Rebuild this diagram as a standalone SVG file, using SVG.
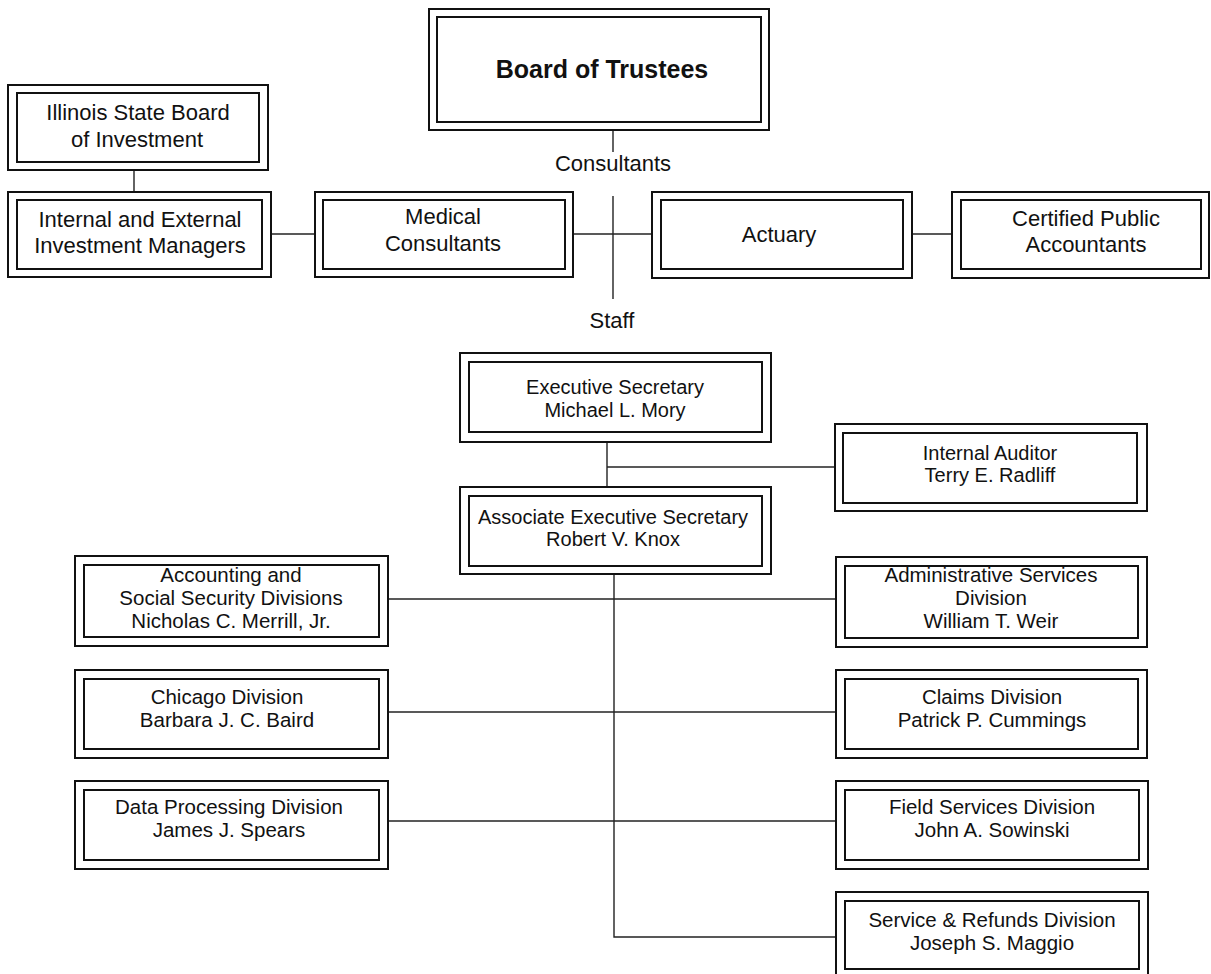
<svg xmlns="http://www.w3.org/2000/svg" width="1211" height="974" viewBox="0 0 1211 974">
<style>
.o{fill:none;stroke:#111;stroke-width:2}
.i{fill:none;stroke:#111;stroke-width:2}
.c{fill:none;stroke:#222;stroke-width:1.4}
text{font-family:"Liberation Sans",Arial,sans-serif;fill:#111;text-anchor:middle}
.t{font-size:22px}
.s{font-size:20px}
.d{font-size:20.5px}
.b{font-size:25px;font-weight:bold}
</style>
<rect width="1211" height="974" fill="#fff"/>
<g id="connectors">
<line class="c" x1="613" y1="130" x2="613" y2="152"/>
<line class="c" x1="613" y1="196" x2="613" y2="299"/>
<line class="c" x1="134" y1="170" x2="134" y2="192"/>
<line class="c" x1="271" y1="234" x2="315" y2="234"/>
<line class="c" x1="573" y1="234" x2="652" y2="234"/>
<line class="c" x1="912" y1="234" x2="952" y2="234"/>
<line class="c" x1="607" y1="442" x2="607" y2="487"/>
<line class="c" x1="607" y1="467" x2="835" y2="467"/>
<polyline class="c" points="614,574 614,937 836,937"/>
<line class="c" x1="388" y1="599" x2="836" y2="599"/>
<line class="c" x1="388" y1="712" x2="836" y2="712"/>
<line class="c" x1="388" y1="821" x2="836" y2="821"/>
</g>
<text class="t" x="613" y="171">Consultants</text>
<text class="t" x="612" y="328">Staff</text>
<g id="board">
<rect class="o" x="429" y="9" width="340" height="121"/>
<rect class="i" x="437" y="17" width="324" height="105"/>
<text class="b" x="602" y="78">Board of Trustees</text>
</g>
<g id="illinois">
<rect class="o" x="8" y="85" width="260" height="85"/>
<rect class="i" x="17" y="93" width="242" height="69"/>
<text class="t" y="120"><tspan x="138">Illinois State Board</tspan><tspan x="137" dy="27">of Investment</tspan></text>
</g>
<g id="investment-managers">
<rect class="o" x="8" y="192" width="263" height="85"/>
<rect class="i" x="17" y="200" width="245" height="69"/>
<text class="t" y="227"><tspan x="140">Internal and External</tspan><tspan x="140" dy="26">Investment Managers</tspan></text>
</g>
<g id="medical">
<rect class="o" x="315" y="192" width="258" height="85"/>
<rect class="i" x="323" y="200" width="242" height="69"/>
<text class="t" y="224"><tspan x="443">Medical</tspan><tspan x="443" dy="27">Consultants</tspan></text>
</g>
<g id="actuary">
<rect class="o" x="652" y="192" width="260" height="86"/>
<rect class="i" x="661" y="200" width="242" height="69"/>
<text class="t" x="779" y="242">Actuary</text>
</g>
<g id="cpa">
<rect class="o" x="952" y="192" width="257" height="86"/>
<rect class="i" x="961" y="200" width="240" height="69"/>
<text class="t" y="226"><tspan x="1086">Certified Public</tspan><tspan x="1086" dy="26">Accountants</tspan></text>
</g>
<g id="executive">
<rect class="o" x="460" y="353" width="311" height="89"/>
<rect class="i" x="469" y="362" width="293" height="70"/>
<text class="s" y="394"><tspan x="615">Executive Secretary</tspan><tspan x="615" dy="22.5">Michael L. Mory</tspan></text>
</g>
<g id="auditor">
<rect class="o" x="835" y="424" width="312" height="87"/>
<rect class="i" x="843" y="433" width="294" height="70"/>
<text class="s" y="459.5"><tspan x="990">Internal Auditor</tspan><tspan x="990" dy="22.5">Terry E. Radliff</tspan></text>
</g>
<g id="associate">
<rect class="o" x="460" y="487" width="311" height="87"/>
<rect class="i" x="469" y="496" width="293" height="70"/>
<text class="s" y="523.5"><tspan x="613">Associate Executive Secretary</tspan><tspan x="613" dy="22.5">Robert V. Knox</tspan></text>
</g>
<g id="accounting">
<rect class="o" x="75" y="556" width="313" height="90"/>
<rect class="i" x="84" y="565" width="295" height="72"/>
<text class="d" y="581.5"><tspan x="231">Accounting and</tspan><tspan x="231" dy="23">Social Security Divisions</tspan><tspan x="231" dy="23">Nicholas C. Merrill, Jr.</tspan></text>
</g>
<g id="chicago">
<rect class="o" x="75" y="670" width="313" height="88"/>
<rect class="i" x="84" y="679" width="295" height="70"/>
<text class="d" y="704"><tspan x="227">Chicago Division</tspan><tspan x="227" dy="23">Barbara J. C. Baird</tspan></text>
</g>
<g id="data-processing">
<rect class="o" x="75" y="781" width="313" height="88"/>
<rect class="i" x="84" y="790" width="295" height="70"/>
<text class="d" y="814"><tspan x="229">Data Processing Division</tspan><tspan x="229" dy="23">James J. Spears</tspan></text>
</g>
<g id="administrative">
<rect class="o" x="836" y="557" width="311" height="90"/>
<rect class="i" x="845" y="566" width="293" height="72"/>
<text class="d" y="581.5"><tspan x="991">Administrative Services</tspan><tspan x="991" dy="23">Division</tspan><tspan x="991" dy="23">William T. Weir</tspan></text>
</g>
<g id="claims">
<rect class="o" x="836" y="670" width="311" height="88"/>
<rect class="i" x="845" y="679" width="293" height="70"/>
<text class="d" y="704"><tspan x="992">Claims Division</tspan><tspan x="992" dy="23">Patrick P. Cummings</tspan></text>
</g>
<g id="field">
<rect class="o" x="836" y="781" width="312" height="88"/>
<rect class="i" x="845" y="790" width="294" height="70"/>
<text class="d" y="814"><tspan x="992">Field Services Division</tspan><tspan x="992" dy="23">John A. Sowinski</tspan></text>
</g>
<g id="service">
<rect class="o" x="836" y="892" width="312" height="90"/>
<rect class="i" x="845" y="901" width="294" height="68"/>
<text class="d" y="927"><tspan x="992">Service &amp; Refunds Division</tspan><tspan x="992" dy="23">Joseph S. Maggio</tspan></text>
</g>
</svg>
